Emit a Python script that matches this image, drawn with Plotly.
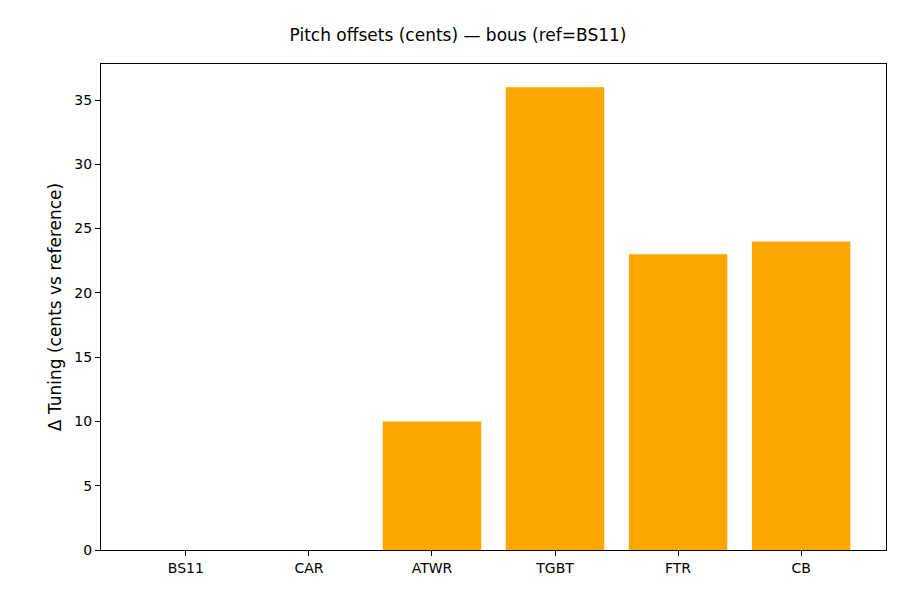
import plotly.graph_objects as go

categories = ["BS11", "CAR", "ATWR", "TGBT", "FTR", "CB"]
offsets = [0, 0, 10, 36, 23, 24]

fig = go.Figure(go.Bar(x=categories, y=offsets, marker_color="#FFA500",
                       marker_line_width=0, width=0.8))

fig.update_layout(
    width=900, height=600,
    paper_bgcolor="white", plot_bgcolor="white",
    font=dict(family="DejaVu Sans", size=14, color="black"),
    title=dict(text="Pitch offsets (cents) — bous (ref=BS11)", x=0.5, xanchor="center",
               y=0.955, yanchor="middle", font=dict(size=17)),
    margin=dict(l=93, r=22, t=56, b=58),
    showlegend=False,
)
fig.update_xaxes(range=[-0.69, 5.69], showline=True, mirror=True, linecolor="black",
                 ticks="outside", ticklen=5, tickcolor="black", showgrid=False)
fig.update_yaxes(range=[0, 37.8], showline=True, mirror=True, linecolor="black",
                 ticks="outside", ticklen=5, tickcolor="black", showgrid=False,
                 dtick=5, zeroline=False,
                 title=dict(text="Δ Tuning (cents vs reference)", standoff=8))

fig.write_html("out.html")
